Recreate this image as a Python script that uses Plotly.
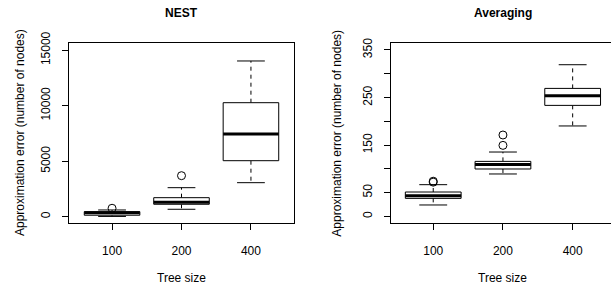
import numpy as np
import plotly.graph_objects as go

# ---- data ----
categories = ["100", "200", "400"]

nest_lo = [20, 667, 3063]
nest_q1 = [130, 1117, 5045]
nest_med = [350, 1297, 7450]
nest_q3 = [450, 1712, 10270]
nest_hi = [604, 2613, 14030]
nest_out_cat = ["100", "200"]
nest_out_val = [757, 3694]

avg_lo = [24, 89.2, 190.2]
avg_q1 = [37.9, 99.7, 233.5]
avg_med = [43.5, 109.4, 253.9]
avg_q3 = [51.3, 115.7, 269.2]
avg_hi = [66.7, 135.4, 319]
avg_out_cat = ["100", "100", "200", "200"]
avg_out_val = [72, 74, 149.4, 171.2]

nest_ticks = [0, 5000, 10000, 15000]
avg_ticks = [0, 50, 100, 150, 200, 250, 300, 350]
avg_ticktext = ["0", "50", "", "150", "", "250", "", "350"]

FONT = "Liberation Sans, Arial, Helvetica, sans-serif"
W, H = 611, 285

fig = go.Figure()
pos = {c: i + 1 for i, c in enumerate(categories)}
half = 0.4
cap = 0.2


def add_boxes(lo, q1, med, q3, hi, out_cat, out_val, xa, ya):
    for i, c in enumerate(categories):
        p = pos[c]
        # dashed whiskers
        for a, b in ((q3[i], hi[i]), (q1[i], lo[i])):
            fig.add_trace(go.Scatter(x=[p, p], y=[a, b], mode="lines",
                                     line=dict(color="black", width=1, dash="4px,4px"),
                                     xaxis=xa, yaxis=ya, hoverinfo="skip", showlegend=False))
        # caps
        for v in (hi[i], lo[i]):
            fig.add_trace(go.Scatter(x=[p - cap, p + cap], y=[v, v], mode="lines",
                                     line=dict(color="black", width=1),
                                     xaxis=xa, yaxis=ya, hoverinfo="skip", showlegend=False))
        # box
        fig.add_trace(go.Scatter(x=[p - half, p + half, p + half, p - half, p - half],
                                 y=[q1[i], q1[i], q3[i], q3[i], q1[i]], mode="lines",
                                 fill="toself", fillcolor="white",
                                 line=dict(color="black", width=1),
                                 xaxis=xa, yaxis=ya, hoverinfo="skip", showlegend=False))
        # median
        fig.add_trace(go.Scatter(x=[p - half, p + half], y=[med[i], med[i]], mode="lines",
                                 line=dict(color="black", width=3),
                                 xaxis=xa, yaxis=ya, hoverinfo="skip", showlegend=False))
    fig.add_trace(go.Scatter(x=[pos[c] for c in out_cat], y=out_val, mode="markers",
                             marker=dict(symbol="circle-open", size=8, color="black",
                                         line=dict(width=1, color="black")),
                             xaxis=xa, yaxis=ya, hoverinfo="skip", showlegend=False))


add_boxes(nest_lo, nest_q1, nest_med, nest_q3, nest_hi, nest_out_cat, nest_out_val, "x", "y")
add_boxes(avg_lo, avg_q1, avg_med, avg_q3, avg_hi, avg_out_cat, avg_out_val, "x2", "y2")

tickpos = [pos[c] for c in categories]
ydom = [(H - 223) / H, (H - 43) / H]

common_x = dict(tickmode="array", tickvals=tickpos, ticktext=categories,
                ticks="outside", ticklen=6, tickcolor="black", tickwidth=1,
                showgrid=False, zeroline=False, showline=True, linecolor="black",
                linewidth=1, automargin=False, ticklabelstandoff=11,
                tickfont=dict(family=FONT, size=12, color="black"))
common_y = dict(ticks="outside", ticklen=6, tickcolor="black", tickwidth=1,
                showgrid=False, zeroline=False, showline=True, linecolor="black",
                linewidth=1, tickangle=-90, automargin=False, ticklabelstandoff=7,
                tickfont=dict(family=FONT, size=12, color="black"))

fig.update_layout(
    width=W, height=H, margin=dict(l=0, r=0, t=0, b=0, autoexpand=False),
    plot_bgcolor="white", paper_bgcolor="white", showlegend=False,
    xaxis=dict(domain=[69 / W, 294 / W], range=[0.38, 3.62], mirror=True, anchor="y", **common_x),
    yaxis=dict(domain=ydom, range=[-570, 15650], mirror=True, anchor="x",
               tickmode="array", tickvals=nest_ticks, ticktext=[str(t) for t in nest_ticks],
               **common_y),
    xaxis2=dict(domain=[390.7 / W, 1.0], range=[0.39, 3.55], mirror=True, anchor="y2", **common_x),
    yaxis2=dict(domain=ydom, range=[-13.9, 364.7], mirror=False, anchor="x2",
                tickmode="array", tickvals=avg_ticks, ticktext=avg_ticktext, **common_y),
)

ann_font = dict(family=FONT, size=12, color="black")
anns = [
    dict(text="<b>NEST</b>", x=181.5 / W, y=1 - 13.3 / H),
    dict(text="<b>Averaging</b>", x=502.8 / W, y=1 - 13.3 / H),
    dict(text="Tree size", x=181.5 / W, y=1 - 278 / H),
    dict(text="Tree size", x=502.8 / W, y=1 - 278 / H),
    dict(text="Approximation error (number of nodes)", x=20 / W, y=1 - 133 / H, textangle=-90),
    dict(text="Approximation error (number of nodes)", x=336.7 / W, y=1 - 133 / H, textangle=-90),
]
for a in anns:
    fig.add_annotation(xref="paper", yref="paper", showarrow=False, xanchor="center",
                       yanchor="middle", font=ann_font, **a)

fig.write_html("out.html", config={"displayModeBar": False, "staticPlot": True},
               post_script="document.body.style.margin='0px';document.body.style.overflow='hidden';")
